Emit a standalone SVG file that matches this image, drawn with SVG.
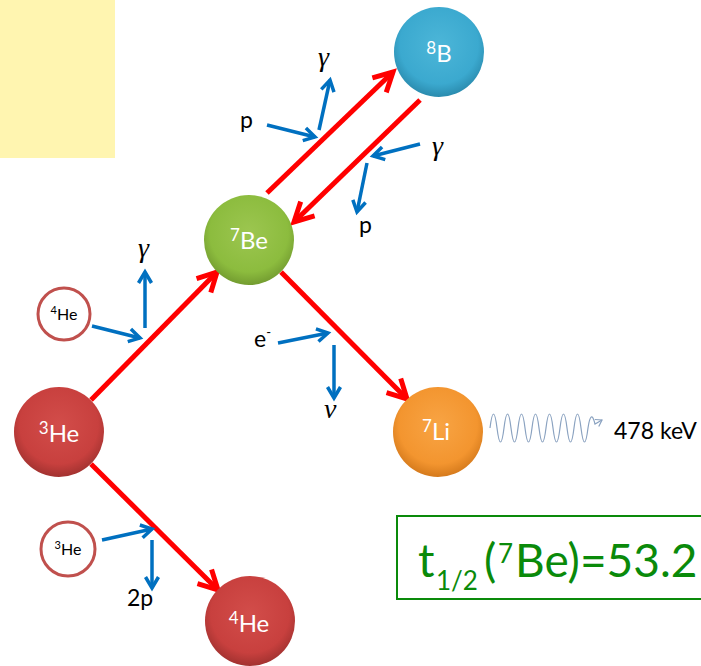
<svg xmlns="http://www.w3.org/2000/svg" width="701" height="666" viewBox="0 0 701 666">
<style>
.red{stroke:#ff0000;stroke-width:5;fill:none}
.blue{stroke:#0070c0;stroke-width:3.5;fill:none}
.nl{font-family:Lato,"Liberation Sans",sans-serif;font-size:24px;fill:#ffffff;text-anchor:middle}
.sl{font-family:Lato,"Liberation Sans",sans-serif;font-size:16px;fill:#000000;text-anchor:middle}
.lb{font-family:Lato,"Liberation Sans",sans-serif;font-size:23px;fill:#000000}
.gr{font-family:"Liberation Serif",serif;font-style:italic;font-size:28px;fill:#000000}
.ring{fill:#ffffff;stroke:#c0504d;stroke-width:3}
.gt{font-family:Lato,"Liberation Sans",sans-serif;fill:#0a8a0a}
</style>
<defs>
<marker id="ah-red" markerUnits="userSpaceOnUse" markerWidth="40" markerHeight="40" viewBox="-30 -20 40 40" refX="0" refY="0" orient="auto" overflow="visible">
<path d="M-19,-10 L0,0 L-19,10" fill="none" stroke="#ff0000" stroke-width="5"/>
</marker>
<marker id="ah-blue" markerUnits="userSpaceOnUse" markerWidth="30" markerHeight="30" viewBox="-20 -15 30 30" refX="0" refY="0" orient="auto" overflow="visible">
<path d="M-11,-6.5 L0,0 L-11,6.5" fill="none" stroke="#0070c0" stroke-width="3.5"/>
</marker>
<marker id="ah-wave" markerUnits="userSpaceOnUse" markerWidth="12" markerHeight="12" viewBox="-8 -6 12 12" refX="0" refY="0" orient="auto" overflow="visible">
<path d="M-6,-4 L0,0 L-6,4" fill="none" stroke="#8aa2c0" stroke-width="1.2"/>
</marker>
<radialGradient id="g-red" cx="50%" cy="42%" r="58%">
<stop offset="0" stop-color="#d24d4a"/><stop offset="0.75" stop-color="#c8403e"/><stop offset="1" stop-color="#a23230"/>
</radialGradient>
<radialGradient id="g-green" cx="50%" cy="42%" r="58%">
<stop offset="0" stop-color="#9cc650"/><stop offset="0.75" stop-color="#8cbc3e"/><stop offset="1" stop-color="#739c30"/>
</radialGradient>
<radialGradient id="g-blue" cx="50%" cy="42%" r="58%">
<stop offset="0" stop-color="#4cb6d8"/><stop offset="0.75" stop-color="#3ba9cf"/><stop offset="1" stop-color="#2a8bae"/>
</radialGradient>
<radialGradient id="g-orange" cx="50%" cy="42%" r="58%">
<stop offset="0" stop-color="#f8a444"/><stop offset="0.75" stop-color="#f3952f"/><stop offset="1" stop-color="#d57a1c"/>
</radialGradient>
</defs>
<rect x="0" y="0" width="701" height="666" fill="#ffffff"/>
<rect x="0" y="0" width="115" height="158" fill="#fff5b0"/>

<g id="connectors">
<line class="red" x1="91" y1="400" x2="217" y2="272" marker-end="url(#ah-red)"/>
<line class="red" x1="267" y1="193" x2="393" y2="72" marker-end="url(#ah-red)"/>
<line class="red" x1="420" y1="100" x2="294" y2="222" marker-end="url(#ah-red)"/>
<line class="red" x1="281" y1="272" x2="407" y2="399" marker-end="url(#ah-red)"/>
<line class="red" x1="91" y1="464" x2="218" y2="590" marker-end="url(#ah-red)"/>
<line class="blue" x1="267" y1="125" x2="315" y2="137" marker-end="url(#ah-blue)"/>
<line class="blue" x1="319" y1="130" x2="330" y2="80" marker-end="url(#ah-blue)"/>
<line class="blue" x1="420" y1="144" x2="373" y2="156" marker-end="url(#ah-blue)"/>
<line class="blue" x1="367" y1="163" x2="357" y2="212" marker-end="url(#ah-blue)"/>
<line class="blue" x1="92" y1="326" x2="140" y2="338" marker-end="url(#ah-blue)"/>
<line class="blue" x1="145" y1="328" x2="145" y2="272" marker-end="url(#ah-blue)"/>
<line class="blue" x1="278" y1="343" x2="328" y2="333" marker-end="url(#ah-blue)"/>
<line class="blue" x1="334" y1="345" x2="334" y2="398" marker-end="url(#ah-blue)"/>
<line class="blue" x1="102" y1="540" x2="152" y2="529" marker-end="url(#ah-blue)"/>
<line class="blue" x1="152" y1="540" x2="152" y2="588" marker-end="url(#ah-blue)"/>
<path d="M490,428 q3.5,-28 7,0 q3.5,28 7,0 q3.5,-28 7,0 q3.5,28 7,0 q3.5,-28 7,0 q3.5,28 7,0 q3.5,-28 7,0 q3.5,28 7,0 q3.5,-28 7,0 q3.5,28 7,0 q3.5,-28 7,0 q3.5,28 7,0 q3.5,-28 7,0 q3.5,28 7,0 q3,-20 7,-4 l7,-4" fill="none" stroke="#8aa2c0" stroke-width="1.2" marker-end="url(#ah-wave)"/>
</g>

<g id="labels">
<text class="lb" x="240" y="128">p</text>
<text class="gr" x="318" y="66">γ</text>
<text class="gr" x="432" y="155">γ</text>
<text class="lb" x="359" y="233">p</text>
<text class="gr" x="138" y="257">γ</text>
<text class="lb" x="254" y="347">e<tspan font-size="13" dy="-10">-</tspan></text>
<text class="gr" x="324" y="418">ν</text>
<text class="lb" x="127" y="606">2p</text>
<text class="lb" x="614" y="439" font-size="24">478 keV</text>
</g>

<g id="node-8B">
<circle cx="439" cy="52" r="45" fill="url(#g-blue)"/>
<text class="nl" x="439" y="62"><tspan font-size="17" dy="-8">8</tspan><tspan dy="8">B</tspan></text>
</g>
<g id="node-7Be">
<circle cx="249" cy="240" r="45" fill="url(#g-green)"/>
<text class="nl" x="249" y="249"><tspan font-size="17" dy="-8">7</tspan><tspan dy="8">Be</tspan></text>
</g>
<g id="node-3He">
<circle cx="59" cy="432" r="45" fill="url(#g-red)"/>
<text class="nl" x="59" y="442"><tspan font-size="17" dy="-8">3</tspan><tspan dy="8">He</tspan></text>
</g>
<g id="node-7Li">
<circle cx="438" cy="432" r="45" fill="url(#g-orange)"/>
<text class="nl" x="436" y="440"><tspan font-size="17" dy="-8">7</tspan><tspan dy="8">Li</tspan></text>
</g>
<g id="node-4He">
<circle cx="250" cy="621" r="45" fill="url(#g-red)"/>
<text class="nl" x="249" y="632"><tspan font-size="17" dy="-8">4</tspan><tspan dy="8">He</tspan></text>
</g>
<g id="node-4He-small">
<circle class="ring" cx="64" cy="314" r="26"/>
<text class="sl" x="64" y="320"><tspan font-size="11" dy="-6">4</tspan><tspan dy="6">He</tspan></text>
</g>
<g id="node-3He-small">
<circle class="ring" cx="68" cy="549" r="27"/>
<text class="sl" x="68" y="555"><tspan font-size="11" dy="-6">3</tspan><tspan dy="6">He</tspan></text>
</g>

<g id="halflife">
<rect x="397" y="516" width="320" height="83" fill="none" stroke="#0a8a0a" stroke-width="2"/>
<text class="gt" font-size="46" x="418" y="577">t</text>
<text class="gt" font-size="26" x="436" y="590">1/2</text>
<text class="gt" font-size="46" x="484" y="577">(</text>
<text class="gt" font-size="26" x="498" y="563">7</text>
<text class="gt" font-size="46" x="515" y="577">Be)=53.2</text>
</g>
</svg>
